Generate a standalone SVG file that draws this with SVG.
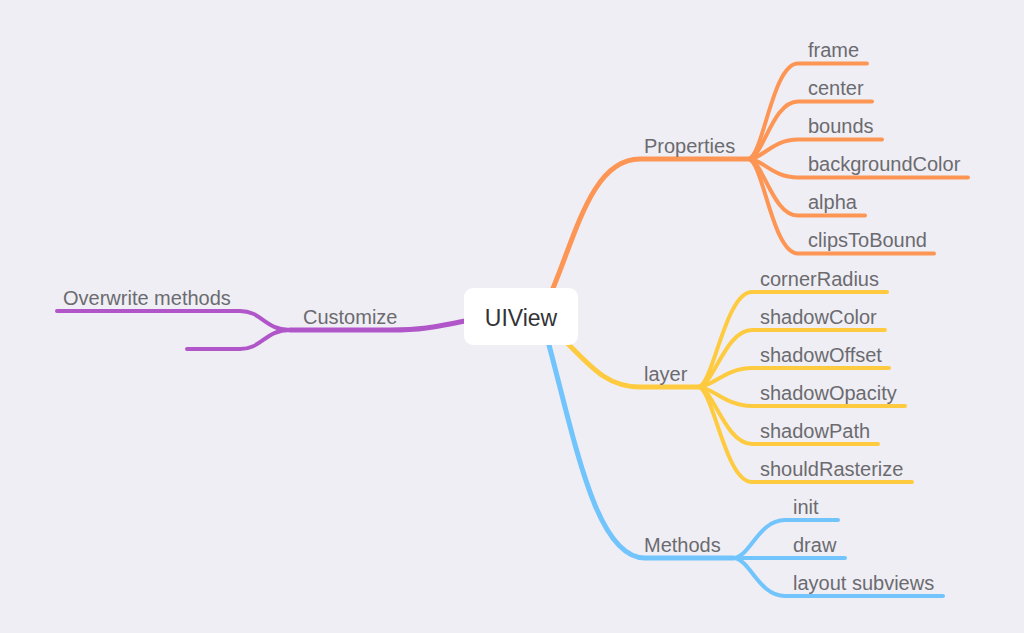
<svg xmlns="http://www.w3.org/2000/svg" width="1024" height="633" viewBox="0 0 1024 633">
<style>
.l{fill:none;stroke-linecap:round;stroke-linejoin:round}
.m{stroke-width:5}
.c{stroke-width:4}
.o{stroke:#fd9655}
.y{stroke:#fecb40}
.b{stroke:#72c4fc}
.p{stroke:#b056c9}
text{font-family:"Liberation Sans",Arial,Helvetica,sans-serif;font-size:20px;fill:#6b6b70}
</style>
<rect width="1024" height="633" fill="#efeef4"/>
<g id="connectors">
<path class="l m o" d="M548 300 C575 240 590 159 640 159 L748 159"/>
<path class="l c o" d="M748 159 C763 159 772 63.5 798 63.5 L867 63.5"/>
<path class="l c o" d="M748 159 C763 159 772 101.5 798 101.5 L872 101.5"/>
<path class="l c o" d="M748 159 C763 159 772 139.5 798 139.5 L882 139.5"/>
<path class="l c o" d="M748 159 C763 159 772 177.5 798 177.5 L968 177.5"/>
<path class="l c o" d="M748 159 C763 159 772 215.5 798 215.5 L865 215.5"/>
<path class="l c o" d="M748 159 C763 159 772 253.5 798 253.5 L934 253.5"/>
<path class="l m y" d="M560 336 C590 365 605 387 640 387 L698 387"/>
<path class="l c y" d="M698 387 C713 387 725 292 752 292 L887 292"/>
<path class="l c y" d="M698 387 C713 387 725 330 752 330 L885 330"/>
<path class="l c y" d="M698 387 C713 387 725 368 752 368 L889 368"/>
<path class="l c y" d="M698 387 C713 387 725 406 752 406 L905 406"/>
<path class="l c y" d="M698 387 C713 387 725 444 752 444 L878 444"/>
<path class="l c y" d="M698 387 C713 387 725 482 752 482 L912 482"/>
<path class="l m b" d="M545 330 C575 440 595 558 645 558 L733 558"/>
<path class="l c b" d="M733 558 C750 558 758 520 785 520 L838 520"/>
<path class="l c b" d="M733 558 C750 558 758 558 785 558 L845 558"/>
<path class="l c b" d="M733 558 C750 558 758 596 785 596 L943 596"/>
<path class="l m p" d="M470 320 C430 328 420 330 390 330 L290 330"/>
<path class="l c p" d="M290 330 C265 330 262 311 240 311 L57 311"/>
<path class="l c p" d="M290 330 C265 330 262 349 240 349 L187 349"/>
</g>
<g id="UIView">
<rect x="464" y="288" width="114" height="57" rx="9" fill="#ffffff"/>
<text x="521" y="326" text-anchor="middle" style="font-size:23px;fill:#333336">UIView</text>
</g>
<g id="Properties"><text x="644" y="153">Properties</text></g>
<g id="frame"><text x="808" y="57">frame</text></g>
<g id="center"><text x="808" y="95">center</text></g>
<g id="bounds"><text x="808" y="133">bounds</text></g>
<g id="backgroundColor"><text x="808" y="171">backgroundColor</text></g>
<g id="alpha"><text x="808" y="209">alpha</text></g>
<g id="clipsToBound"><text x="808" y="247">clipsToBound</text></g>
<g id="layer"><text x="644" y="381">layer</text></g>
<g id="cornerRadius"><text x="760" y="286">cornerRadius</text></g>
<g id="shadowColor"><text x="760" y="324">shadowColor</text></g>
<g id="shadowOffset"><text x="760" y="362">shadowOffset</text></g>
<g id="shadowOpacity"><text x="760" y="400">shadowOpacity</text></g>
<g id="shadowPath"><text x="760" y="438">shadowPath</text></g>
<g id="shouldRasterize"><text x="760" y="476">shouldRasterize</text></g>
<g id="Methods"><text x="644" y="552">Methods</text></g>
<g id="init"><text x="793" y="514">init</text></g>
<g id="draw"><text x="793" y="552">draw</text></g>
<g id="layoutSubviews"><text x="793" y="590">layout subviews</text></g>
<g id="Customize"><text x="303" y="324">Customize</text></g>
<g id="Overwrite"><text x="63" y="305">Overwrite methods</text></g>
</svg>
